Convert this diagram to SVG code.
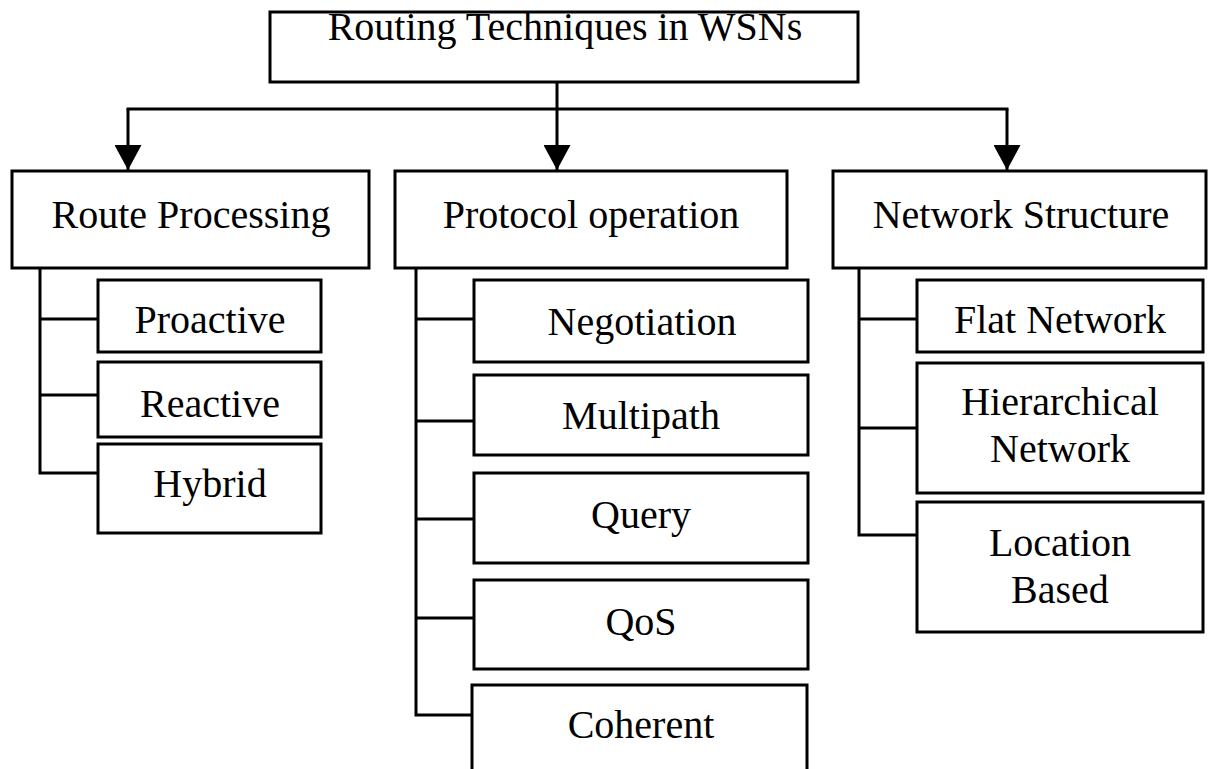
<svg xmlns="http://www.w3.org/2000/svg" width="1209" height="769" viewBox="0 0 1209 769">
  <style>
    .box { fill: #ffffff; stroke: #000000; stroke-width: 3; }
    .lbl { font-family: "Liberation Serif", "Times New Roman", serif; font-size: 40px; fill: #000000; text-anchor: middle; }
    .wire { fill: none; stroke: #000000; stroke-width: 3; stroke-linecap: square; }
    .arrow { fill: none; stroke: #000000; stroke-width: 3; marker-end: url(#head); }
  </style>
  <defs>
    <marker id="head" viewBox="0 0 25 27" refX="25" refY="13.5" markerWidth="25" markerHeight="27" markerUnits="userSpaceOnUse" orient="auto">
      <path d="M0,0 L25,13.5 L0,27 Z" fill="#000000"/>
    </marker>
  </defs>
  <rect width="1209" height="769" fill="#ffffff"/>

  <!-- connectors -->
  <g id="connectors">
    <path class="wire" d="M128,109 H1007"/>
    <path class="arrow" d="M557,82 V170"/>
    <path class="arrow" d="M128,109 V170"/>
    <path class="arrow" d="M1007,109 V170"/>
    <!-- Route Processing branches -->
    <path class="wire" d="M40,268 V473 M40,319 H98 M40,395 H98 M40,473 H98"/>
    <!-- Protocol operation branches -->
    <path class="wire" d="M416,268 V715 M416,319 H474 M416,421 H474 M416,519 H474 M416,618 H474 M416,715 H472"/>
    <!-- Network Structure branches -->
    <path class="wire" d="M859,268 V535 M859,319 H917 M859,428 H917 M859,535 H917"/>
  </g>

  <g id="root">
    <rect class="box" x="270" y="12" width="588" height="70"/>
    <text class="lbl" x="565" y="40">Routing Techniques in WSNs</text>
  </g>

  <g id="route-processing">
    <rect class="box" x="12" y="171" width="357" height="97"/>
    <text class="lbl" x="191" y="228">Route Processing</text>
  </g>
  <g id="protocol-operation">
    <rect class="box" x="395" y="171" width="392" height="97"/>
    <text class="lbl" x="591" y="228">Protocol operation</text>
  </g>
  <g id="network-structure">
    <rect class="box" x="833" y="171" width="373" height="97"/>
    <text class="lbl" x="1021" y="228">Network Structure</text>
  </g>

  <g id="proactive">
    <rect class="box" x="98" y="280" width="223" height="72"/>
    <text class="lbl" x="210" y="333">Proactive</text>
  </g>
  <g id="reactive">
    <rect class="box" x="98" y="362" width="223" height="75"/>
    <text class="lbl" x="210" y="417">Reactive</text>
  </g>
  <g id="hybrid">
    <rect class="box" x="98" y="444" width="223" height="89"/>
    <text class="lbl" x="210" y="497">Hybrid</text>
  </g>

  <g id="negotiation">
    <rect class="box" x="474" y="280" width="334" height="82"/>
    <text class="lbl" x="642" y="335">Negotiation</text>
  </g>
  <g id="multipath">
    <rect class="box" x="474" y="375" width="334" height="80"/>
    <text class="lbl" x="641" y="429">Multipath</text>
  </g>
  <g id="query">
    <rect class="box" x="474" y="473" width="334" height="90"/>
    <text class="lbl" x="641" y="528">Query</text>
  </g>
  <g id="qos">
    <rect class="box" x="474" y="580" width="334" height="89"/>
    <text class="lbl" x="641" y="635">QoS</text>
  </g>
  <g id="coherent">
    <rect class="box" x="472" y="685" width="335" height="100"/>
    <text class="lbl" x="641" y="738">Coherent</text>
  </g>

  <g id="flat-network">
    <rect class="box" x="917" y="280" width="286" height="72"/>
    <text class="lbl" x="1060" y="333">Flat Network</text>
  </g>
  <g id="hierarchical-network">
    <rect class="box" x="917" y="363" width="286" height="130"/>
    <text class="lbl" x="1060" y="415">Hierarchical</text>
    <text class="lbl" x="1060" y="462">Network</text>
  </g>
  <g id="location-based">
    <rect class="box" x="917" y="502" width="286" height="130"/>
    <text class="lbl" x="1060" y="556">Location</text>
    <text class="lbl" x="1060" y="603">Based</text>
  </g>
</svg>
